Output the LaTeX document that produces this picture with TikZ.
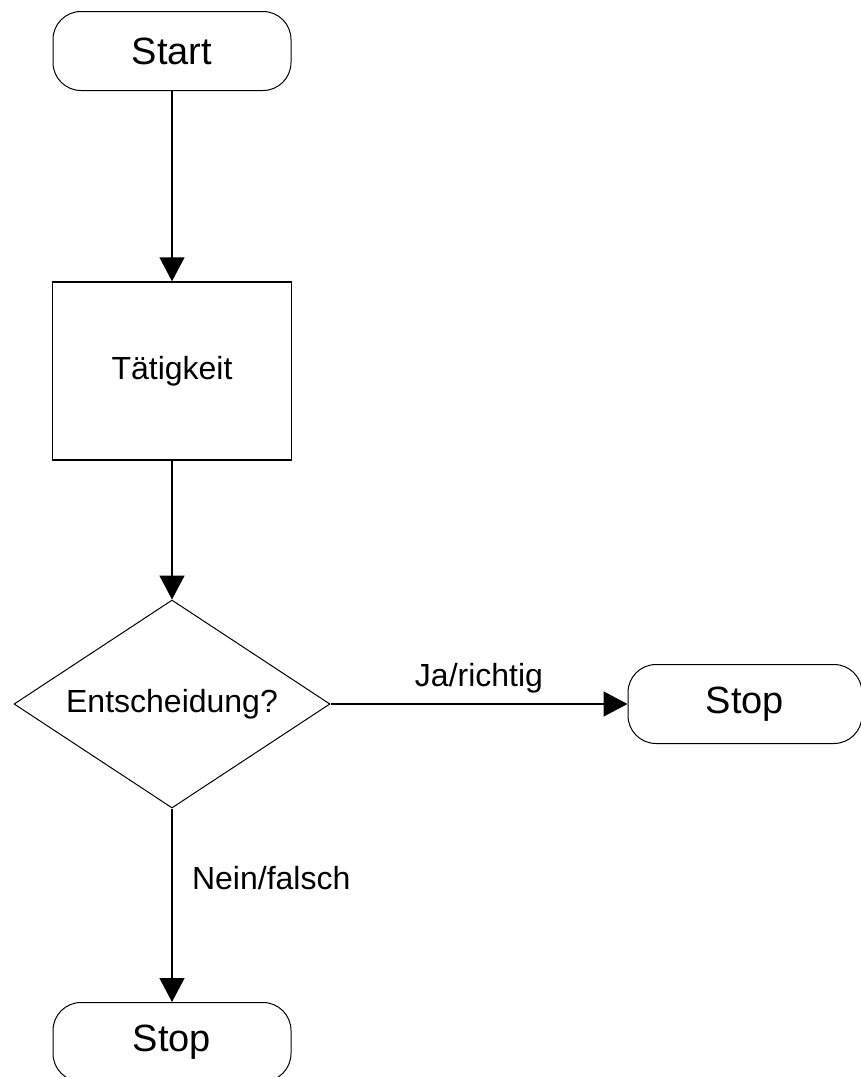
\documentclass[tikz,border=0pt]{standalone}
\usepackage{fontspec}
\setmainfont{Liberation Sans}
\usetikzlibrary{shapes.geometric,arrows.meta}

\begin{document}
\begin{tikzpicture}[x=1pt, y=-1pt,
  term/.style = {draw, line width=1pt, rounded corners=28pt, minimum width=238pt, minimum height=79pt, font=\fontsize{38}{44}\selectfont},
  task/.style = {draw, line width=1.5pt, minimum width=239pt, minimum height=178pt, font=\fontsize{32}{38}\selectfont},
  decision/.style = {draw, diamond, aspect=1.52, line width=1pt, minimum width=316pt, minimum height=208pt, inner sep=0pt, font=\fontsize{32}{38}\selectfont},
  flow/.style = {line width=1.5pt, -{Triangle[length=24pt, width=25pt]}},
  lbl/.style = {font=\fontsize{32}{38}\selectfont}]
\useasboundingbox (0,0) rectangle (861,1077);
\pgfmathsetmacro{\mx}{172} % main column
\pgfmathsetmacro{\my}{704} % decision row
\node[term] (start) at (\mx, 51) {Start};
\node[task] (act) at (\mx, 371) {Tätigkeit};
\node[decision] (ask) at (\mx, \my) {Entscheidung?};
\node[term, minimum width=234pt] (stopR) at (745, \my) {Stop};
\node[term] (stopB) at (\mx, 1042) {Stop};
\draw[flow] (start) -- (act);
\draw[flow] (act) -- (ask);
\draw[flow] (ask) -- node[lbl, above=7pt] {Ja/richtig} (stopR);
\draw[flow] (ask) -- node[lbl, pos=0.36, right=16pt] {Nein/falsch} (stopB);
\end{tikzpicture}
\end{document}
